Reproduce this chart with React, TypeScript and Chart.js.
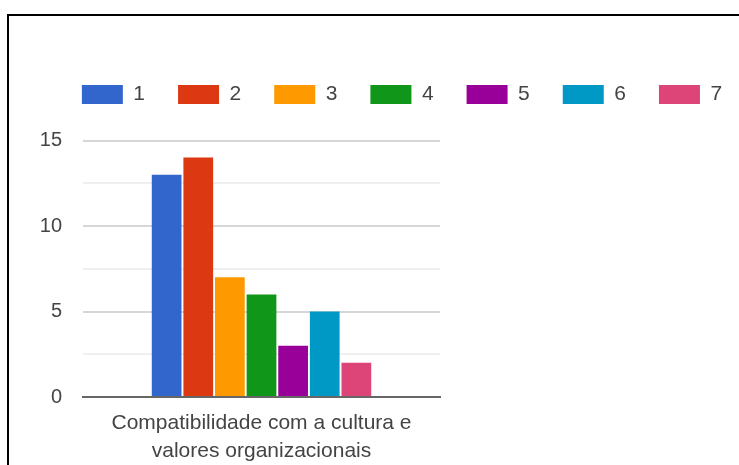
import React, { useEffect, useRef } from 'react';
import { Chart, registerables } from 'chart.js';

Chart.register(...registerables);

const categories: string[][] = [['Compatibilidade com a cultura e', 'valores organizacionais']];
const seriesLabels: string[] = ['1', '2', '3', '4', '5', '6', '7'];
const seriesValues: number[] = [13, 14, 7, 6, 3, 5, 2];
const seriesColors: string[] = ['#3366cc', '#dc3912', '#ff9900', '#109618', '#990099', '#0099c6', '#dd4477'];
const yMin = 0;
const yMax = 15;
const yStep = 2.5;
const yLabelEvery = 5;

const FONT = 'Arial, "Liberation Sans", sans-serif';
const TEXT = '#444444';
const CW = 800;
const CH = 465;

export default function App() {
  const ref = useRef<HTMLCanvasElement | null>(null);

  useEffect(() => {
    if (!ref.current) return;
    const chart = new Chart(ref.current, {
      type: 'bar',
      data: {
        labels: categories as any,
        datasets: seriesLabels.map((lab, i) => ({
          label: lab,
          data: [seriesValues[i]],
          backgroundColor: seriesColors[i],
          borderWidth: 0,
          categoryPercentage: 0.62,
          barPercentage: 0.94,
        })),
      },
      options: {
        responsive: false,
        animation: false,
        devicePixelRatio: 1,
        layout: { padding: { top: 51, left: 4, right: 0, bottom: 0 } },
        plugins: {
          tooltip: { enabled: false },
          legend: {
            position: 'top',
            align: 'center',
            labels: {
              boxWidth: 41,
              boxHeight: 19,
              padding: 33,
              color: TEXT,
              font: { family: FONT, size: 21 },
            },
          },
        },
        scales: {
          x: {
            position: 'bottom',
            grid: { display: true, color: 'rgba(0,0,0,0)', drawTicks: false },
            border: { display: true, color: '#666666', width: 2 },
            ticks: {
              color: TEXT,
              padding: 13,
              maxRotation: 0,
              autoSkip: false,
              font: { family: FONT, size: 21, lineHeight: 1.3 },
            },
            afterFit: (s: any) => {
              s.height = 68;
            },
          },
          xTop: {
            position: 'top',
            display: true,
            grid: { display: false, drawTicks: false },
            border: { display: false },
            ticks: { display: false },
            afterFit: (s: any) => {
              s.height = 25.5;
            },
          },
          y: {
            min: yMin,
            max: yMax,
            position: 'left',
            border: { display: false },
            grid: {
              drawTicks: false,
              lineWidth: 2,
              color: (ctx: any) => {
                const v = ctx.tick ? ctx.tick.value : 1;
                if (v === 0) return 'rgba(0,0,0,0)';
                return v % yLabelEvery === 0 ? '#d6d6d6' : '#efefef';
              },
            },
            ticks: {
              stepSize: yStep,
              padding: 21,
              color: TEXT,
              font: { family: FONT, size: 20 },
              callback: (v: any) => (Number(v) % yLabelEvery === 0 ? String(v) : ''),
            },
            afterFit: (s: any) => {
              s.width = 79;
            },
          },
          yRight: {
            position: 'right',
            display: true,
            grid: { display: false, drawTicks: false },
            border: { display: false },
            ticks: { display: false },
            afterFit: (s: any) => {
              s.width = 360;
            },
          },
        },
      } as any,
    });
    return () => chart.destroy();
  }, []);

  return (
    <div
      style={{
        position: 'fixed',
        left: 0,
        top: 0,
        width: 739,
        height: 465,
        overflow: 'hidden',
        background: '#ffffff',
      }}
    >
      <div
        style={{
          position: 'absolute',
          left: 7,
          top: 14,
          width: 732,
          height: 451,
          borderTop: '2px solid #000000',
          borderLeft: '2px solid #000000',
          boxSizing: 'border-box',
        }}
      />
      <canvas
        ref={ref}
        width={CW}
        height={CH}
        style={{ position: 'absolute', left: 0, top: 0, width: CW, height: CH }}
      />
      <div
        style={{
          position: 'absolute',
          left: 730,
          top: 16,
          width: 12,
          height: 452,
          background: '#ffffff',
          zIndex: 2,
        }}
      />
    </div>
  );
}
